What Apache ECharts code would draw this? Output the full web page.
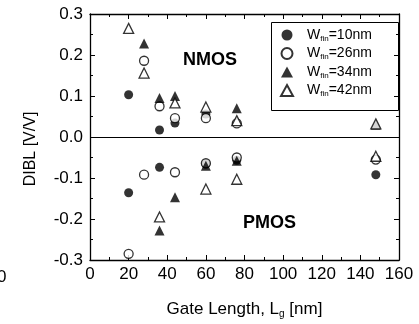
<!DOCTYPE html>
<html>
<head>
<meta charset="utf-8">
<script src="https://cdn.jsdelivr.net/npm/echarts@6/dist/echarts.min.js"></script>
<style>
  html, body {margin: 0; padding: 0; background: #fff;}
  #chart {width: 419px; height: 324px;}
</style>
</head>
<body>
<div id="chart"></div>
<script>
// gate length [nm], DIBL [V/V] — NMOS points are positive, PMOS negative
const w10 = [[20, 0.103], [36, 0.017], [44, 0.034], [60, 0.056],
  [20, -0.136], [36, -0.074], [60, -0.066], [76, -0.057], [148, -0.092]];
const w26 = [[28, 0.186], [36, 0.075], [44, 0.046], [60, 0.046], [76, 0.033],
  [20, -0.285], [28, -0.092], [44, -0.086], [60, -0.064], [76, -0.05], [148, -0.055]];
const w34 = [[28, 0.228], [36, 0.095], [44, 0.1], [76, 0.07], [148, 0.03],
  [36, -0.228], [44, -0.147], [60, -0.07], [76, -0.058]];
const w42 = [[20, 0.265], [28, 0.156], [44, 0.083], [60, 0.073], [76, 0.04], [148, 0.032],
  [36, -0.195], [60, -0.127], [76, -0.103], [148, -0.047]];
const legendNames = ['W{s|fin}=10nm', 'W{s|fin}=26nm', 'W{s|fin}=34nm', 'W{s|fin}=42nm'];

const font = 'Liberation Sans';
const chart = echarts.init(document.getElementById('chart'));

const tickAxis = {
  axisLine: {onZero: false, lineStyle: {color: '#000', width: 1.3}},
  axisTick: {inside: true, length: 5, lineStyle: {color: '#000'}},
  minorTick: {show: true, splitNumber: 2, length: 3, lineStyle: {color: '#000'}},
  splitLine: {show: false}
};

const mk = (name, data, symbol, filled) => ({
  name,
  type: 'scatter',
  data,
  symbol,
  symbolSize: symbol === 'triangle' ? 10 : 9,
  itemStyle: {
    color: filled ? '#000' : '#fff',
    borderColor: '#000',
    borderWidth: filled ? 0 : 1.3
  }
});

const series = [
  mk(legendNames[0], w10, 'circle', true),
  mk(legendNames[1], w26, 'circle', false),
  mk(legendNames[2], w34, 'triangle', true),
  mk(legendNames[3], w42, 'triangle', false)
];
series[0].markLine = {
  silent: true,
  symbol: 'none',
  label: {show: false},
  lineStyle: {color: '#000', width: 1, type: 'solid'},
  data: [{yAxis: 0}]
};

chart.setOption({
  animation: false,
  grid: {left: 90, right: 20, top: 14, bottom: 63},
  xAxis: [{
    ...tickAxis,
    type: 'value', min: 0, max: 160, interval: 20,
    name: 'Gate Length, L{s|g} [nm]',
    nameLocation: 'middle', nameGap: 40,
    nameTextStyle: {fontFamily: font, fontSize: 17, color: '#000',
      rich: {s: {fontSize: 10, verticalAlign: 'bottom', padding: [9, 0, 0, 0]}}},
    axisLabel: {fontFamily: font, fontSize: 17, color: '#000', margin: 6}
  }, {
    ...tickAxis,
    type: 'value', min: 0, max: 160, interval: 20, position: 'top',
    axisLabel: {show: false}
  }],
  yAxis: [{
    ...tickAxis,
    type: 'value', min: -0.3, max: 0.3, interval: 0.1,
    name: 'DIBL [V/V]',
    nameLocation: 'middle', nameGap: 51,
    nameTextStyle: {fontFamily: font, fontSize: 16, color: '#000', padding: [0, 24, 0, 0]},
    axisLabel: {fontFamily: font, fontSize: 17, color: '#000', margin: 7,
      formatter: v => v.toFixed(1)}
  }, {
    ...tickAxis,
    type: 'value', min: -0.3, max: 0.3, interval: 0.1, position: 'right',
    axisLabel: {show: false}
  }],
  legend: {
    orient: 'vertical',
    left: 275, top: 23,
    itemGap: 4,
    itemWidth: 12, itemHeight: 11,
    textStyle: {fontFamily: font, fontSize: 14, color: '#000', padding: [0, 0, 0, 9],
      rich: {s: {fontSize: 8, verticalAlign: 'bottom', padding: [7, 0, 0, 0]}}},
    data: legendNames
  },
  graphic: [
    {type: 'rect', left: 269, top: 20, shape: {width: 127, height: 88},
      style: {fill: 'none', stroke: '#000', lineWidth: 1}, z: 10},
    {type: 'text', left: 183, top: 51,
      style: {text: 'NMOS', font: 'bold 18px "Liberation Sans"', fill: '#000'}},
    {type: 'text', left: 243, top: 214,
      style: {text: 'PMOS', font: 'bold 18px "Liberation Sans"', fill: '#000'}},
    {type: 'text', left: -3, top: 269,
      style: {text: '0', font: '17px "Liberation Sans"', fill: '#000'}}
  ],
  series
});
</script>
</body>
</html>
